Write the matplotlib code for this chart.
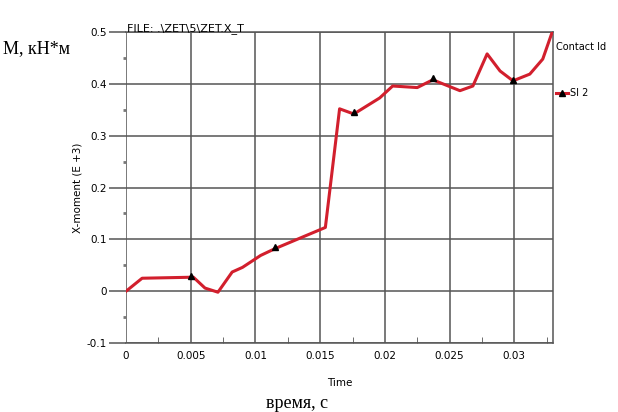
# Момент по времени, ZET.X_T
import matplotlib.pyplot as plt
import numpy as np

# Данные
time = [0.0, 0.00124, 0.0052, 0.0061, 0.0071, 0.0082, 0.009, 0.0104, 0.0115,
        0.0154, 0.0165, 0.0176, 0.0196, 0.0206, 0.0225, 0.0237, 0.0258, 0.0268,
        0.0279, 0.0289, 0.0299, 0.0312, 0.0322, 0.0329]
moment = [0.0, 0.025, 0.027, 0.006, -0.002, 0.037, 0.046, 0.069, 0.082,
          0.123, 0.352, 0.342, 0.373, 0.396, 0.393, 0.408, 0.387, 0.396,
          0.458, 0.425, 0.406, 0.419, 0.448, 0.498]
marker_t = [0.005, 0.0115, 0.0176, 0.0237, 0.0299]
marker_v = [0.030, 0.085, 0.345, 0.412, 0.408]

x_ticks = [0, 0.005, 0.01, 0.015, 0.02, 0.025, 0.03]
x_labels = ['0', '0.005', '0.01', '0.015', '0.02', '0.025', '0.03']
y_ticks = [-0.1, 0, 0.1, 0.2, 0.3, 0.4, 0.5]
y_labels = ['-0.1', '0', '0.1', '0.2', '0.3', '0.4', '0.5']

narrow = ['Liberation Sans Narrow', 'DejaVu Sans']
serif = ['Liberation Serif', 'DejaVu Serif']

fig = plt.figure(figsize=(6.18, 4.12), dpi=100)
ax = fig.add_axes([0.204, 0.1675, 0.691, 0.7545])

ax.plot(time, moment, color='#d21f2d', lw=2.2, zorder=3)
ax.plot(marker_t, marker_v, ls='none', marker='^', ms=4, color='black', zorder=4)
# элемент легенды
ax.plot([], [], color='#d21f2d', lw=2.2, marker='^', ms=4, mfc='black', mec='black', label='SI 2')

ax.set_xlim(0, 0.033)
ax.set_ylim(-0.1, 0.5)
ax.set_xticks(x_ticks)
ax.set_xticklabels(x_labels, family=narrow, fontsize=7.5)
ax.set_yticks(y_ticks)
ax.set_yticklabels(y_labels, family=narrow, fontsize=7.5)
ax.set_xticks(np.arange(0.0025, 0.033, 0.005), minor=True)
ax.set_yticks(np.arange(-0.05, 0.5, 0.1), minor=True)

ax.grid(True, which='major', color='#555555', lw=1.1)
ax.tick_params(axis='y', which='major', length=12, color='#555555', width=1.1, pad=2)
ax.tick_params(axis='y', which='minor', length=2, width=2, color='#777777', pad=0)
ax.tick_params(axis='x', which='major', length=0, pad=6)
ax.tick_params(axis='x', which='minor', direction='in', length=4, color='#555555')

ax.spines['left'].set_visible(False)
for s in ['top', 'right', 'bottom']:
    ax.spines[s].set_color('#555555')
    ax.spines[s].set_linewidth(1.1)

ax.set_xlabel('Time', family=narrow, fontsize=7.5, labelpad=12)
ax.set_ylabel('X-moment (E +3)', family=narrow, fontsize=7.5, labelpad=3)

ax.text(0.003, 0.995, 'FILE: .\\ZET\\5\\ZET.X_T', transform=ax.transAxes,
        family=narrow, fontsize=8, va='bottom', ha='left')

leg = ax.legend(title='Contact Id', loc='upper left', bbox_to_anchor=(0.99, 0.99),
                frameon=False, prop={'family': narrow, 'size': 7},
                handlelength=1.3, handletextpad=0.2, labelspacing=1.0,
                borderpad=0.2)
leg.get_title().set_family(narrow)
leg.get_title().set_fontsize(7)
leg._legend_box.align = 'left'
leg._legend_box.sep = 26

fig.text(0.005, 0.87, 'M, кН*м', family=serif, fontsize=13)
fig.text(0.43, 0.01, 'время, с', family=serif, fontsize=13)

plt.savefig('out.png', dpi=100)
